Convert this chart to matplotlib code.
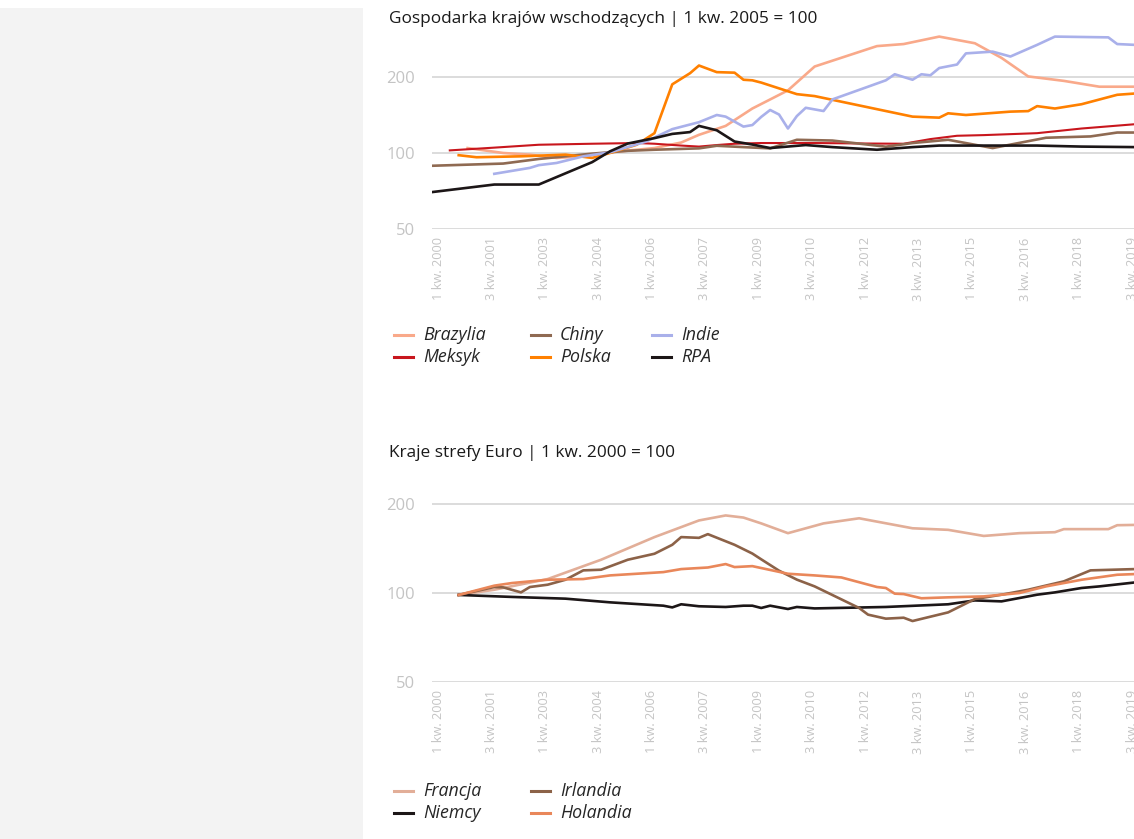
"""
Wzrost gospodarczy - gospodarki wschodzace i kraje strefy euro
Dwa wykresy liniowe (skala logarytmiczna) odtworzone w matplotlib.
"""

##########################
# Import Required packages
##########################

import matplotlib
matplotlib.use('Agg')
import matplotlib.pyplot as plt
import matplotlib.transforms as mtransforms
from matplotlib.lines import Line2D
from matplotlib.patches import Rectangle
from matplotlib.ticker import NullLocator

##########################
# Data (quarter index: 0 = 1 kw. 2000)
##########################

years = range(2000, 2020)
quarters = [f"{q} kw. {y}" for y in years for q in range(1, 5)]

# Gospodarka krajow wschodzacych | 1 kw. 2005 = 100
brazylia_q = [4, 8, 11, 14, 17, 20, 25, 28, 30, 33, 36, 40, 43, 50, 53, 57, 61, 64, 67, 71, 75, 79]
brazylia = [104.6, 100, 98.5, 95.6, 97, 100.6, 104.6, 110, 118, 128, 150, 177, 220, 265, 270, 289,
            272, 238, 201, 193, 183, 183]

meksyk_q = [2, 7, 12, 18, 23, 25, 28, 30, 32, 34, 37, 43, 49, 53, 56, 59, 62, 68, 73, 79]
meksyk = [102.4, 105, 107.8, 108.8, 109.5, 108.8, 107, 106, 107.5, 108.8, 109.5, 109.5, 109, 108.8,
          113.5, 117, 117.7, 119.8, 125, 130]

chiny_q = [0, 8, 12, 18, 22, 25, 30, 32, 35, 38, 41, 45, 51, 54, 58, 63, 69, 74, 77, 79]
chiny = [89, 90.8, 94.7, 99.4, 102, 103, 104.3, 106.8, 105.5, 104.3, 112.8, 112, 105.9, 109.5,
         112.8, 104.6, 114.9, 116.3, 120.5, 120.5]

polska_q = [3, 5, 10, 15, 18, 20, 23, 25, 27, 29, 30, 32, 34, 35, 36, 37, 41, 43, 54, 57, 58, 60,
            65, 67, 68, 70, 73, 77, 79]
polska = [98, 96.2, 97, 98.5, 95.6, 100, 107.8, 119.8, 187, 207, 222, 209, 208, 195, 194, 190, 171,
          168, 139.3, 138, 143.6, 141.4, 145.8, 146.5, 153.3, 150, 156, 170, 172]

indie_q = [7, 11, 12, 14, 17, 20, 24, 27, 30, 32, 33, 35, 36, 37, 38, 39, 40, 41, 42, 44, 45, 49,
           51, 52, 54, 55, 56, 57, 59, 60, 63, 65, 68, 70, 76, 77, 79]
indie = [82.7, 87.3, 89.5, 91.3, 97, 100.6, 110.8, 124.3, 132.4, 141.4, 139.3, 127.2, 129, 139,
         148, 142, 125, 140, 151, 146.6, 163, 183, 194, 205, 195, 205, 203, 217, 224, 248, 252, 241,
         268, 289, 287, 270, 268]

rpa_q = [0, 7, 12, 18, 20, 22, 25, 27, 29, 30, 32, 34, 36, 38, 42, 45, 50, 54, 57, 62, 68, 73, 79]
rpa = [70, 75, 75, 92, 101.5, 109, 114.5, 119, 121, 128, 123, 111, 108, 104.6, 107.5, 105.5, 103,
       105.5, 107, 107, 107, 106, 105.5]

# Kraje strefy Euro | 1 kw. 2000 = 100
francja_q = [3, 7, 13, 19, 25, 30, 33, 35, 37, 40, 44, 48, 54, 58, 62, 66, 70, 71, 76, 77, 79]
francja = [98.5, 102.6, 111.5, 129.6, 154.6, 176, 183, 180, 172, 159.4, 172, 179, 165.6, 163.6,
           156, 159.4, 160.6, 164.5, 164.5, 169.6, 170]

irlandia_q = [3, 7, 8, 10, 11, 13, 15, 17, 19, 22, 25, 27, 28, 30, 31, 34, 36, 37, 39, 41, 43, 48,
              49, 51, 53, 54, 58, 61, 64, 67, 71, 74, 79]
irlandia = [98.5, 104.8, 104.5, 100.5, 104.8, 106.7, 110.9, 119.3, 119.9, 129.6, 135.8, 145.6,
            154.6, 153.7, 158.2, 145.6, 136, 130, 119, 111, 105.3, 89, 84.5, 81.9, 82.5, 80.4, 86,
            95.4, 98.7, 102.6, 109.5, 119.3, 120.5]

holandia_q = [3, 7, 9, 13, 17, 20, 26, 28, 31, 33, 34, 36, 40, 43, 46, 50, 51, 52, 53, 55, 58, 62,
              66, 69, 73, 77, 79]
holandia = [98.5, 105.9, 108.1, 110.9, 111.5, 114.7, 117.7, 120.5, 122, 125.3, 122.4, 123.3, 116.2,
            114.7, 112.9, 104.8, 104, 99.5, 99.2, 96, 96.7, 97.4, 100, 105.3, 110.9, 115.3, 115.9]

niemcy_q = [3, 9, 15, 20, 26, 27, 28, 30, 33, 35, 36, 37, 38, 40, 41, 43, 51, 58, 61, 64, 68, 70,
            73, 75, 79]
niemcy = [98.5, 97, 95.7, 93, 90.6, 89.4, 91.6, 90.2, 89.7, 90.6, 90.6, 89, 90.6, 88.3, 89.7, 88.7,
          89.7, 91.6, 94.4, 93.7, 98.7, 100.5, 104, 105.3, 108.6]

###########################
# Figure setup
###########################

W, H = 1134, 839
plt.rcParams['font.family'] = ['Open Sans', 'DejaVu Sans']

fig = plt.figure(figsize=(W / 100, H / 100), dpi=100)
fig.patch.set_facecolor('white')

# grey side panel
fig.patches.append(Rectangle((0, 0), 363 / W, 1 - 8 / H, transform=fig.transFigure,
                             facecolor='#f3f3f3', edgecolor='none', zorder=0))

GRID = '#d9d9d9'
TICK = '#c4c4c4'


def fx(x):
    return x / W


def fy(y):
    return 1 - y / H


def style_axis(ax, ytop):
    ax.set_yscale('log')
    ax.set_ylim(50, ytop)
    ax.set_xlim(0, 79)
    ax.set_yticks([50, 100, 200])
    ax.set_yticklabels(['50', '100', '200'])
    ax.yaxis.set_minor_locator(NullLocator())
    ax.set_xticks(range(0, 80, 6))
    ax.set_xticklabels(quarters[::6], rotation=90, fontsize=9.2, color=TICK)
    ax.tick_params(axis='y', length=0, pad=12, labelsize=12, labelcolor=TICK)
    ax.tick_params(axis='x', length=0, pad=6)
    ax.grid(axis='y', color=GRID, linewidth=1.3)
    ax.set_axisbelow(True)
    for s in ax.spines.values():
        s.set_visible(False)
    ax.patch.set_alpha(0)
    offset = mtransforms.ScaledTranslation(6 / 100, 0, fig.dpi_scale_trans)
    for lbl in ax.get_xticklabels():
        lbl.set_transform(lbl.get_transform() + offset)


def legend(items, cols_x, rows_y):
    # column-major order, like the original chart
    for k, (name, color) in enumerate(items):
        x = cols_x[k // len(rows_y)]
        y = rows_y[k % len(rows_y)]
        fig.add_artist(Line2D([fx(x), fx(x + 19)], [fy(y), fy(y)], color=color,
                              linewidth=2.2, transform=fig.transFigure))
        fig.text(fx(x + 29), fy(y), name, fontsize=12.8, style='italic', color='#262626',
                 va='center', ha='left')


#################################
# Top chart - emerging economies
#################################

ax1 = fig.add_axes([fx(432), fy(229), 703 / W, (229 - 32.5) / H])
style_axis(ax1, 300)

top_series = [
    ('Brazylia', brazylia_q, brazylia, '#f9a98a', 1.9),
    ('Meksyk', meksyk_q, meksyk, '#c8161d', 1.5),
    ('Chiny', chiny_q, chiny, '#8f6a52', 1.9),
    ('Polska', polska_q, polska, '#ff8000', 1.9),
    ('Indie', indie_q, indie, '#a9b0ea', 1.9),
    ('RPA', rpa_q, rpa, '#1c1617', 1.9),
]
for name, q, v, c, lw in top_series:
    ax1.plot(q, v, color=c, linewidth=lw, label=name)

fig.text(fx(389), fy(19), 'Gospodarka krajów wschodzących | 1 kw. 2005 = 100',
         fontsize=12.4, color='#1a1a1a', va='center', ha='left')

legend([(s[0], s[3]) for s in top_series], [394, 531, 652], [335, 357])

#################################
# Bottom chart - euro area
#################################

ax2 = fig.add_axes([fx(432), fy(682), 703 / W, (682 - 475.4) / H])
style_axis(ax2, 250)

bottom_series = [
    ('Francja', francja_q, francja, '#e2ae98'),
    ('Niemcy', niemcy_q, niemcy, '#1c1617'),
    ('Irlandia', irlandia_q, irlandia, '#8c6248'),
    ('Holandia', holandia_q, holandia, '#e9875a'),
]
for name, q, v, c in bottom_series:
    ax2.plot(q, v, color=c, linewidth=1.9, label=name)

fig.text(fx(389), fy(453), 'Kraje strefy Euro | 1 kw. 2000 = 100',
         fontsize=12.4, color='#1a1a1a', va='center', ha='left')

legend([(s[0], s[3]) for s in bottom_series], [394, 531], [791, 813])

fig.savefig('out.png', dpi=100)
